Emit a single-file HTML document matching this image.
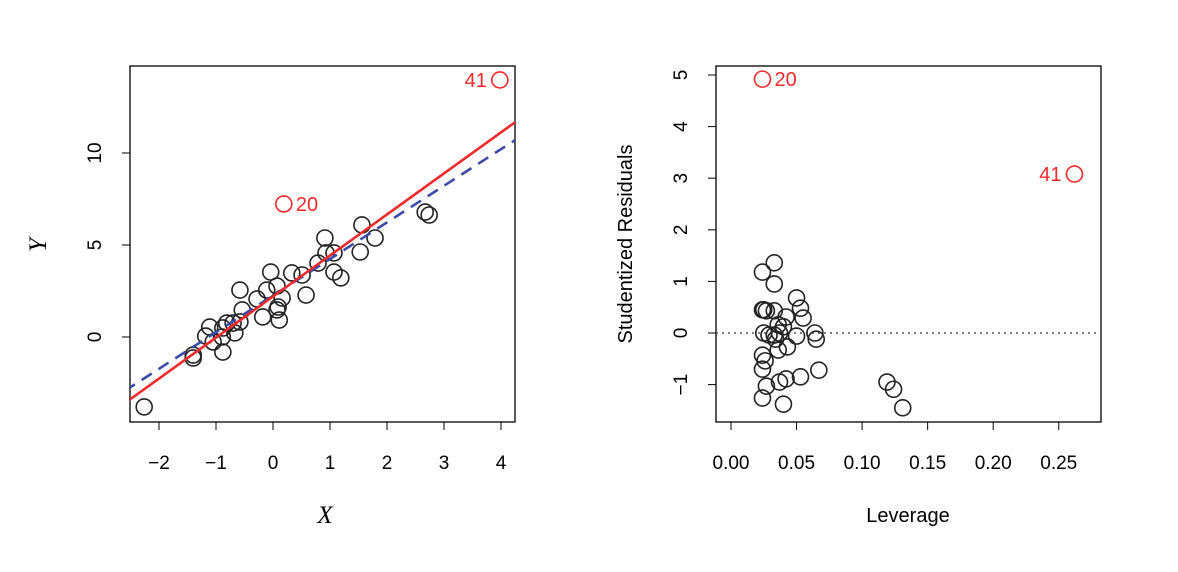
<!DOCTYPE html>
<html><head><meta charset="utf-8"><style>
html,body{margin:0;padding:0;background:#fff;}
svg{display:block;font-family:"Liberation Sans",sans-serif;}
</style></head><body>
<svg id="c" width="1178" height="572"></svg>
<script>
// Left panel data
const leftX = [-2.26,-1.40,-1.40,-1.18,-1.11,-1.05,-0.88,-0.88,-0.89,-0.81,-0.70,-0.67,-0.58,-0.58,-0.54,-0.28,-0.18,-0.11,-0.04,0.07,0.11,0.09,0.07,0.16,0.33,0.51,0.58,0.79,0.91,0.93,1.07,1.07,1.19,1.53,1.56,1.79,2.67,2.74];
const leftY = [-3.80,-0.98,-1.14,0.05,0.54,-0.27,-0.82,0.49,0.0,0.76,0.76,0.22,0.82,2.55,1.47,2.07,1.09,2.55,3.53,2.77,0.92,1.63,1.47,2.12,3.48,3.37,2.28,4.02,5.38,4.57,4.57,3.53,3.21,4.62,6.09,5.38,6.79,6.63];
const leftOutX = [0.19,3.98];
const leftOutY = [7.23,13.97];
const leftOutLabels = ["20","41"];
const redFit = [2.20,2.23];   // intercept, slope
const blueFit = [2.25,1.99];
const leftXTicks = [-2,-1,0,1,2,3,4];
const leftXTickLabels = ["\u22122","\u22121","0","1","2","3","4"];
const leftYTicks = [0,5,10];
// Right panel data
const levX = [0.033,0.024,0.033,0.050,0.053,0.055,0.024,0.025,0.027,0.033,0.042,0.036,0.040,0.025,0.029,0.033,0.037,0.034,0.050,0.064,0.065,0.036,0.043,0.024,0.026,0.024,0.067,0.053,0.042,0.037,0.027,0.024,0.040,0.119,0.124,0.131];
const resY = [1.36,1.18,0.95,0.68,0.48,0.29,0.45,0.45,0.43,0.43,0.31,0.16,0.12,0.0,-0.04,-0.04,0.0,-0.12,-0.06,0.0,-0.12,-0.33,-0.27,-0.43,-0.54,-0.70,-0.72,-0.85,-0.89,-0.95,-1.03,-1.26,-1.38,-0.95,-1.09,-1.45];
const rightOutX = [0.024,0.262];
const rightOutY = [4.92,3.08];
const rightOutLabels = ["20","41"];
const rightXTicks = [0,0.05,0.10,0.15,0.20,0.25];
const rightXTickLabels = ["0.00","0.05","0.10","0.15","0.20","0.25"];
const rightYTicks = [-1,0,1,2,3,4,5];
const rightYTickLabels = ["\u22121","0","1","2","3","4","5"];

const svg=document.getElementById('c');
const NS="http://www.w3.org/2000/svg";
function mk(tag,at,parent){const e=document.createElementNS(NS,tag);for(const k in at)e.setAttribute(k,at[k]);(parent||svg).appendChild(e);return e;}

const lx=v=>273+57*v, ly=v=>337-18.4*v;
const rx=v=>731+1311*v, ry=v=>333-51.6*v;
const FS=19, R=8;

// LEFT PANEL
const gl=mk('g',{});


let e=mk('rect',{x:130,y:66,width:385,height:356,fill:'none',stroke:'#000','stroke-width':1.3},gl);


const cl=mk('clipPath',{id:'clipL'});mk('rect',{x:130,y:66,width:385,height:356},cl);
leftXTicks.forEach((t,i)=>{
  mk('line',{x1:lx(t),x2:lx(t),y1:422,y2:430,stroke:'#000'},gl);
  const tx=mk('text',{x:lx(t),y:469,'text-anchor':'middle','font-size':FS},gl);tx.textContent=leftXTickLabels[i];
  
  
});
leftYTicks.forEach(t=>{
  mk('line',{x1:122,x2:130,y1:ly(t),y2:ly(t),stroke:'#000'},gl);
  const tx=mk('text',{x:101,y:ly(t),'text-anchor':'middle','font-size':FS,transform:`rotate(-90 101 ${ly(t)})`},gl);tx.textContent=t;
  
  
});
e=mk('text',{x:325,y:523,'text-anchor':'middle','font-size':25,'font-style':'italic','font-family':'Liberation Serif,serif'},gl);e.textContent='X';


e=mk('text',{x:46,y:245,'text-anchor':'middle','font-size':25,'font-style':'italic','font-family':'Liberation Serif,serif',transform:'rotate(-90 46 245)'},gl);e.textContent='Y';


leftX.forEach((v,i)=>{
  const c=mk('circle',{cx:lx(v),cy:ly(leftY[i]),r:R,fill:'none',stroke:'#222','stroke-width':1.6},gl);
  
  
});
const xa=-2.6,xb=4.4;
e=mk('line',{x1:lx(xa),y1:ly(blueFit[0]+blueFit[1]*xa),x2:lx(xb),y2:ly(blueFit[0]+blueFit[1]*xb),stroke:'#3a4ca8','stroke-width':2.6,'stroke-dasharray':'12 8','clip-path':'url(#clipL)'},gl);


e=mk('line',{x1:lx(xa),y1:ly(redFit[0]+redFit[1]*xa),x2:lx(xb),y2:ly(redFit[0]+redFit[1]*xb),stroke:'#ee2a2a','stroke-width':2.6,'clip-path':'url(#clipL)'},gl);


leftOutX.forEach((v,i)=>{
  const c=mk('circle',{cx:lx(v),cy:ly(leftOutY[i]),r:R,fill:'none',stroke:'#ee2a2a','stroke-width':1.6},gl);
  
  
  const right=i===0;
  const tx=mk('text',{x:lx(v)+(right?12:-13),y:ly(leftOutY[i])+7,'text-anchor':right?'start':'end','font-size':20,fill:'#ee2a2a'},gl);tx.textContent=leftOutLabels[i];
  
  
});

// RIGHT PANEL
const gr=mk('g',{});


e=mk('rect',{x:716,y:66,width:385,height:356,fill:'none',stroke:'#000','stroke-width':1.3},gr);


rightXTicks.forEach((t,i)=>{
  mk('line',{x1:rx(t),x2:rx(t),y1:422,y2:430,stroke:'#000'},gr);
  const tx=mk('text',{x:rx(t),y:469,'text-anchor':'middle','font-size':FS},gr);tx.textContent=rightXTickLabels[i];
  
  
});
rightYTicks.forEach((t,i)=>{
  mk('line',{x1:708,x2:716,y1:ry(t),y2:ry(t),stroke:'#000'},gr);
  const tx=mk('text',{x:687,y:ry(t),'text-anchor':'middle','font-size':FS,transform:`rotate(-90 687 ${ry(t)})`},gr);tx.textContent=rightYTickLabels[i];
  
  
});
e=mk('text',{x:908,y:522,'text-anchor':'middle','font-size':20},gr);e.textContent='Leverage';


e=mk('text',{x:632,y:244,'text-anchor':'middle','font-size':20,transform:'rotate(-90 632 244)'},gr);e.textContent='Studentized Residuals';


e=mk('line',{x1:716,x2:1101,y1:ry(0),y2:ry(0),stroke:'#555','stroke-width':1.5,'stroke-dasharray':'2 4'},gr);


levX.forEach((v,i)=>{
  const c=mk('circle',{cx:rx(v),cy:ry(resY[i]),r:R,fill:'none',stroke:'#222','stroke-width':1.6},gr);
  
  
});
rightOutX.forEach((v,i)=>{
  const c=mk('circle',{cx:rx(v),cy:ry(rightOutY[i]),r:R,fill:'none',stroke:'#ee2a2a','stroke-width':1.6},gr);
  
  
  const right=i===0;
  const tx=mk('text',{x:rx(v)+(right?12:-13),y:ry(rightOutY[i])+7,'text-anchor':right?'start':'end','font-size':20,fill:'#ee2a2a'},gr);tx.textContent=rightOutLabels[i];
  
  
});
</script>
</body></html>
